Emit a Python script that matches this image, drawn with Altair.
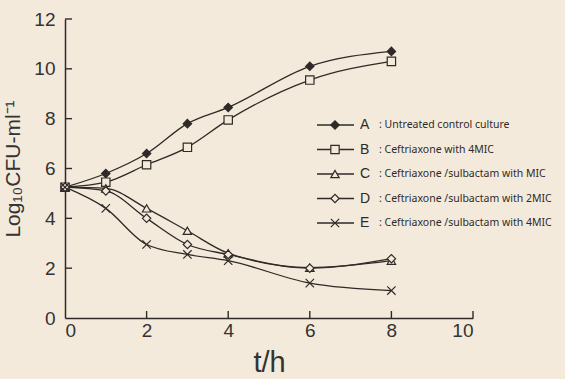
import altair as alt
import pandas as pd

hours = [0, 1, 2, 3, 4, 6, 8]
series_keys = ["A", "B", "C", "D", "E"]
series_desc = [
    ": Untreated control culture",
    ": Ceftriaxone with 4MIC",
    ": Ceftriaxone /sulbactam with MIC",
    ": Ceftriaxone /sulbactam with 2MIC",
    ": Ceftriaxone /sulbactam with 4MIC",
]
values = {
    "A": [5.25, 5.8, 6.6, 7.8, 8.45, 10.1, 10.7],
    "B": [5.25, 5.45, 6.15, 6.85, 7.95, 9.55, 10.3],
    "C": [5.25, 5.2, 4.4, 3.5, 2.6, 2.02, 2.3],
    "D": [5.25, 5.1, 4.0, 2.95, 2.55, 2.0, 2.38],
    "E": [5.25, 4.4, 2.95, 2.55, 2.3, 1.4, 1.1],
}
x_ticks = [2, 4, 6, 8, 10]
y_ticks = [2, 4, 6, 8, 10, 12]

BG = "#F4EADB"
INK = "#2f2a28"

rows = []
for k in series_keys:
    for t, v in zip(hours, values[k]):
        rows.append({"t": t, "value": v, "series": k})
df = pd.DataFrame(rows)
df_leg = pd.DataFrame({"series": series_keys, "desc": series_desc})
df_xt = pd.DataFrame({"v": x_ticks})
df_yt = pd.DataFrame({"v": y_ticks})

W, H = 408, 299
xs = alt.Scale(domain=[0, 10], nice=False)
ys = alt.Scale(domain=[0, 12], nice=False)

shape_scale = alt.Scale(
    domain=series_keys,
    range=["diamond", "square", "triangle-up", "diamond", "M-1,-1L1,1M-1,1L1,-1"],
)
fill_scale = alt.Scale(domain=series_keys, range=[INK, BG, BG, BG, BG])

lines = alt.Chart(df).mark_line(interpolate="monotone", color=INK, strokeWidth=1.3).encode(
    x=alt.X("t:Q", scale=xs, axis=alt.Axis(values=[0, 2, 4, 6, 8, 10], title="t/h")),
    y=alt.Y("value:Q", scale=ys, axis=alt.Axis(values=[0, 2, 4, 6, 8, 10, 12],
                                               title="Log₁₀CFU-ml⁻¹")),
    detail="series:N",
)
points = alt.Chart(df).mark_point(stroke=INK, strokeWidth=1.2, opacity=1, size=70, fillOpacity=1).encode(
    x=alt.X("t:Q", scale=xs),
    y=alt.Y("value:Q", scale=ys),
    shape=alt.Shape("series:N", scale=shape_scale, legend=None),
    fill=alt.Fill("series:N", scale=fill_scale, legend=None),
)
xt = alt.Chart(df_xt).mark_rule(color=INK, strokeWidth=1.4).encode(
    x=alt.X("v:Q", scale=xs), y=alt.value(H), y2=alt.value(H - 7)
)
yt = alt.Chart(df_yt).mark_rule(color=INK, strokeWidth=1.4).encode(
    y=alt.Y("v:Q", scale=ys), x=alt.value(0), x2=alt.value(7)
)
main = alt.layer(lines, points, xt, yt)

ly = alt.Y("series:N", scale=alt.Scale(type="point", range=[106, 204], padding=0), axis=None)
leg_rule = alt.Chart(df_leg).mark_rule(color=INK, strokeWidth=1.3).encode(
    y=ly, x=alt.value(252), x2=alt.value(289)
)
leg_pts = alt.Chart(df_leg).mark_point(stroke=INK, strokeWidth=1.2, opacity=1, size=70, fillOpacity=1).encode(
    y=ly, x=alt.value(270),
    shape=alt.Shape("series:N", scale=shape_scale, legend=None),
    fill=alt.Fill("series:N", scale=fill_scale, legend=None),
)
leg_key = alt.Chart(df_leg).mark_text(align="left", baseline="middle", fontSize=14,
                                      font="Liberation Sans", color=INK).encode(
    y=ly, x=alt.value(295), text="series:N"
)
leg_desc = alt.Chart(df_leg).mark_text(align="left", baseline="middle", fontSize=10.5,
                                       font="Noto Sans", color=INK).encode(
    y=ly, x=alt.value(314), text="desc:N"
)
legend = alt.layer(leg_rule, leg_pts, leg_key, leg_desc)

chart = alt.layer(main, legend).resolve_scale(y="independent").properties(
    width=W, height=H,
    background=BG,
    autosize=alt.AutoSizeParams(type="none"),
    padding={"left": 65, "top": 19, "right": 92, "bottom": 61},
).configure_view(stroke=None).configure_axis(
    domainColor=INK, domainWidth=1.5, ticks=False, grid=False,
    labelFont="Liberation Sans", labelFontSize=19, labelColor="#333333",
    titleFont="Liberation Sans", titleColor="#333333", titleFontWeight="normal",
).configure_axisX(
    labelPadding=3, titleFontSize=29, titlePadding=8,
).configure_axisY(
    labelPadding=10, titleFontSize=21, titlePadding=10,
)

chart.save("out.html", embed_options={"renderer": "svg", "actions": False})
